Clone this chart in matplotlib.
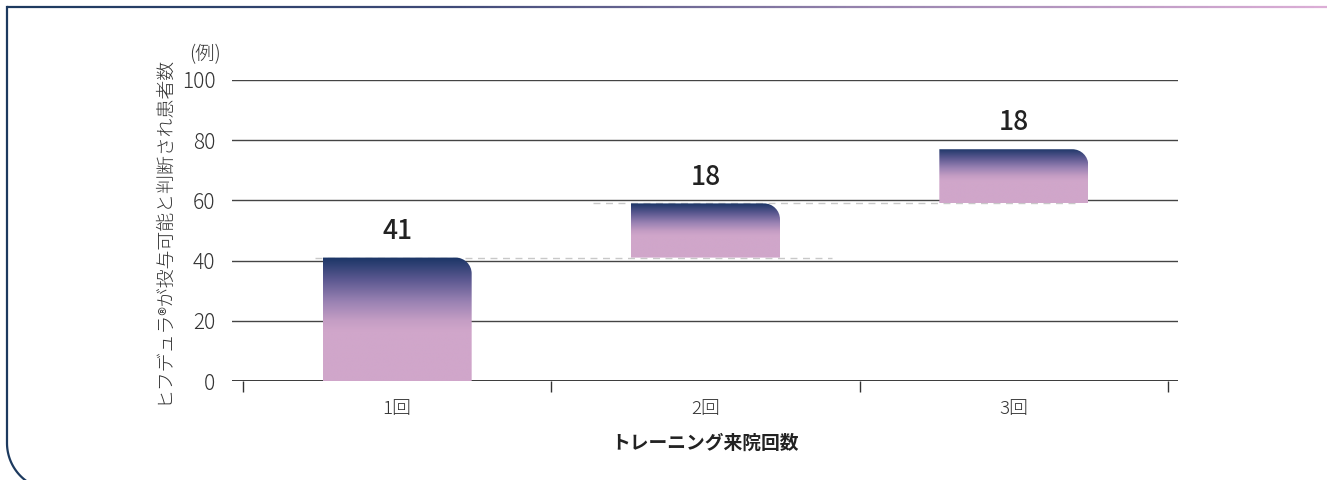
import numpy as np
import matplotlib
matplotlib.use("Agg")
import matplotlib.pyplot as plt
from matplotlib.path import Path
from matplotlib.patches import PathPatch
from matplotlib.lines import Line2D
from matplotlib.collections import LineCollection
from matplotlib.colors import LinearSegmentedColormap, to_rgb

plt.rcParams['font.family'] = ['Noto Sans CJK JP', 'DejaVu Sans']

# ---- data ----
categories = ["1回", "2回", "3回"]
increments = [41, 18, 18]
y_ticks = [0, 20, 40, 60, 80, 100]
y_label = "ヒフデュラ®が投与可能と判断され患者数"
x_label = "トレーニング来院回数"
unit_label = "(例)"

W, H = 1327, 480
fig = plt.figure(figsize=(W / 100, H / 100), dpi=100)

def px2fig(x, y):
    return x / W, 1 - y / H

# axes spanning grid lines 232..1178, y 80..381
ax_l, ax_r, ax_t, ax_b = 232, 1178, 80, 381
ax = fig.add_axes([ax_l / W, 1 - ax_b / H, (ax_r - ax_l) / W, (ax_b - ax_t) / H])
cat_w = (1168 - 243) / 3.0
xmin = -0.5 - (243 - ax_l) / cat_w
xmax = 2.5 + (ax_r - 1168) / cat_w
ax.set_xlim(xmin, xmax)
ax.set_ylim(0, 100)
for s in ax.spines.values():
    s.set_visible(False)

# gridlines
for yv in y_ticks:
    ax.axhline(yv, color="#444444" if yv else "#2a2a2a", lw=1.0 if yv else 1.3, zorder=1)

ax.set_yticks(y_ticks)
ax.set_yticklabels([str(v) for v in y_ticks], fontsize=15, color="#333333", fontweight='light')
ax.tick_params(axis='y', length=0, pad=12)

x_pos = np.arange(len(categories))
ax.set_xticks(x_pos)
ax.set_xticklabels(categories, fontsize=13.5, color="#333333", fontweight='light')
ax.tick_params(axis='x', which='major', length=0, pad=14)
ax.set_xticks(np.arange(len(categories) + 1) - 0.5, minor=True)
ax.tick_params(axis='x', which='minor', length=8, width=1.0, color="#333333", direction='out')

# gradient colormap
cmap = LinearSegmentedColormap.from_list(
    "g", [(0.0, "#1a3566"), (0.3, "#5b5890"), (0.6, "#9a82b3"), (0.85, "#c49dc4"), (1.0, "#d0a6ca")])
N = 300
t = np.linspace(0, 1, N)
rows = np.array([cmap(min(tt / 0.6, 1.0))[:3] for tt in t])
grad = np.repeat(rows[:, None, :], 2, axis=1)

bar_w = 149 / cat_w
pxx = cat_w
pxy = (ax_b - ax_t) / 100.0
r_px = 16
rx, ry = r_px / pxx, r_px / pxy
k = 0.5523

bottoms = np.concatenate([[0], np.cumsum(increments)[:-1]])
tops = np.cumsum(increments)
for i, (b, tp) in enumerate(zip(bottoms, tops)):
    x0, x1 = x_pos[i] - bar_w / 2, x_pos[i] + bar_w / 2
    verts = [(x0, b), (x1, b), (x1, tp - ry),
             (x1, tp - ry * (1 - k)), (x1 - rx * (1 - k), tp), (x1 - rx, tp),
             (x0, tp), (x0, b)]
    codes = [Path.MOVETO, Path.LINETO, Path.LINETO,
             Path.CURVE4, Path.CURVE4, Path.CURVE4,
             Path.LINETO, Path.CLOSEPOLY]
    patch = PathPatch(Path(verts, codes), facecolor='none', edgecolor='none', zorder=3)
    ax.add_patch(patch)
    im = ax.imshow(grad, extent=[x0, x1, b, tp], aspect='auto', origin='upper',
                   interpolation='bilinear', zorder=3)
    im.set_clip_path(patch)
    ax.annotate(str(increments[i]), (x_pos[i], tp), xytext=(0, 19), textcoords='offset points',
                ha='center', va='center', fontsize=19, fontweight='medium', color="#222222", zorder=5)

# dashed connectors
conn_x = [(-0.2665, 1.410), (0.635, 2.198)]
for (cx0, cx1), yv in zip(conn_x, tops[:-1]):
    ax.plot([cx0, cx1], [yv, yv], color="#c8c8c8", lw=1.0, ls=(0, (5, 4)), zorder=2.5)

ax.set_xlim(xmin, xmax)
ax.set_ylim(0, 100)

# texts
fx, fy = px2fig(705, 443)
fig.text(fx, fy, x_label, ha='center', va='center', fontsize=13.5, fontweight='bold', color="#222222")
fx, fy = px2fig(163, 230)
fig.text(fx, fy, y_label, ha='center', va='center', rotation=90, fontsize=13.6, color="#333333",
         fontweight='light')
fx, fy = px2fig(205, 55)
fig.text(fx, fy, unit_label, ha='center', va='center', fontsize=14, color="#333333", fontweight='light')

# frame decoration
navy = "#1d3a5f"
R = 47
cx, cy = 7 + R, 443
th = np.linspace(0, 1.0, 50)
arc_x = cx - R * np.cos(th)
arc_y = cy + R * np.sin(th)
xs = np.concatenate([[7, 7], arc_x])
ys = np.concatenate([[7, cy], arc_y])
fig.add_artist(Line2D(xs / W, 1 - ys / H, color=navy, lw=1.6, transform=fig.transFigure))

tx = np.linspace(7, W, 300)
pts = np.column_stack([tx / W, np.full_like(tx, 1 - 7 / H)])
segs = np.stack([pts[:-1], pts[1:]], axis=1)
fcm = LinearSegmentedColormap.from_list("f", ["#1d3a5f", "#3f4a78", "#9a86b0", "#dcaed6"])
lc = LineCollection(segs, colors=[fcm(v) for v in np.linspace(0, 1, len(segs))],
                    linewidths=1.6, transform=fig.transFigure)
fig.add_artist(lc)

fig.savefig("out.png", dpi=100)
